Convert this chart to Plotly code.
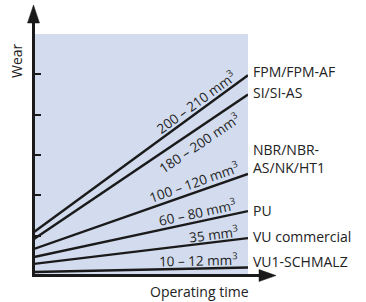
import math
import plotly.graph_objects as go

# ---- data ----
materials = ["FPM/FPM-AF", "SI/SI-AS", "NBR/NBR-<br>AS/NK/HT1", "PU", "VU commercial", "VU1-SCHMALZ"]
volumes = ["200 – 210 mm<sup>3</sup>", "180 – 200 mm<sup>3</sup>", "100 – 120 mm<sup>3</sup>",
           "60 – 80 mm<sup>3</sup>", "35 mm<sup>3</sup>", "10 – 12 mm<sup>3</sup>"]
wear_start = [1.09, 0.92, 0.67, 0.47, 0.30, 0.10]
wear_end = [4.98, 4.50, 2.53, 1.61, 0.94, 0.21]
time_points = [0.0, 1.0]
y_ticks = [1, 2, 3, 4, 5, 6]

# ---- styles / layout ----
W, H = 366, 302
ML, MR, MT, MB = 34, 118, 34, 26
PW, PH = W - ML - MR, H - MT - MB
YMAX = 6.0
BG = "#d2dcee"
INK = "#1a1a1a"
TXT = "#222222"
FONT = "Open Sans"
FS = 14
FS_LAB = 13.5

# label placement (style): position along line, vertical pixel offset
lab_t = [0.757, 0.771, 0.748, 0.766, 0.841, 0.771]
lab_dy = [11, -15, 11, 10, 8, 9]
right_dy = [4, 2, 15, 1, 2, 6]

def px(xp):
    return (xp - ML) / PW

def py(yp):
    return (H - MB - yp) / PH

fig = go.Figure()

for ws, we in zip(wear_start, wear_end):
    fig.add_trace(go.Scatter(x=time_points, y=[ws, we], mode="lines",
                             line=dict(color=INK, width=2.4), hoverinfo="skip",
                             showlegend=False))

annotations = []
for i, (ws, we) in enumerate(zip(wear_start, wear_end)):
    t = lab_t[i]
    yv = ws + (we - ws) * t
    ang = math.degrees(math.atan((we - ws) * PH / YMAX / PW))
    annotations.append(dict(x=t, y=yv, xref="x", yref="y", text=volumes[i],
                            showarrow=False, textangle=-ang, yshift=lab_dy[i],
                            xanchor="center", yanchor="middle",
                            font=dict(family=FONT, size=FS_LAB, color=TXT)))
    annotations.append(dict(x=1, y=we, xref="x", yref="y", text=materials[i],
                            showarrow=False, xanchor="left", yanchor="middle",
                            align="left", xshift=3, yshift=right_dy[i],
                            font=dict(family=FONT, size=FS, color=TXT)))

annotations.append(dict(x=px(199), y=py(291), xref="paper", yref="paper",
                        text="Operating time", showarrow=False,
                        xanchor="center", yanchor="middle",
                        font=dict(family=FONT, size=FS, color=TXT)))
annotations.append(dict(x=px(17), y=py(61), xref="paper", yref="paper",
                        text="Wear", showarrow=False, textangle=-90,
                        xanchor="center", yanchor="middle",
                        font=dict(family=FONT, size=FS, color=TXT)))

shapes = [
    # y axis line
    dict(type="line", xref="paper", yref="paper", x0=px(33.5), x1=px(33.5),
         y0=py(277), y1=py(20), line=dict(color=INK, width=3)),
    # x axis line
    dict(type="line", xref="paper", yref="paper", x0=px(32), x1=px(262),
         y0=py(275.5), y1=py(275.5), line=dict(color=INK, width=3)),
    # y arrow head
    dict(type="path", xref="paper", yref="paper",
         path=f"M {px(27.5)},{py(23)} L {px(39.5)},{py(23)} L {px(33.5)},{py(5)} Z",
         fillcolor=INK, line=dict(color=INK, width=0.5)),
    # x arrow head
    dict(type="path", xref="paper", yref="paper",
         path=f"M {px(259)},{py(269.5)} L {px(259)},{py(281.5)} L {px(276)},{py(275.5)} Z",
         fillcolor=INK, line=dict(color=INK, width=0.5)),
]

fig.update_layout(
    width=W, height=H,
    margin=dict(l=ML, r=MR, t=MT, b=MB, pad=0),
    paper_bgcolor="white", plot_bgcolor=BG,
    showlegend=False,
    xaxis=dict(range=[0, 1], tickvals=[1], ticks="inside", ticklen=5, tickwidth=1.5,
               tickcolor=INK, showticklabels=False, showgrid=False, zeroline=False,
               showline=False, fixedrange=True),
    yaxis=dict(range=[0, YMAX], tickvals=y_ticks, ticks="inside", ticklen=7, tickwidth=2.2,
               tickcolor=INK, showticklabels=False, showgrid=False, zeroline=False,
               showline=False, fixedrange=True),
    annotations=annotations,
    shapes=shapes,
)

fig.write_html("out.html", config={"displayModeBar": False},
               post_script="document.body.style.margin='0';document.body.style.padding='0';")
